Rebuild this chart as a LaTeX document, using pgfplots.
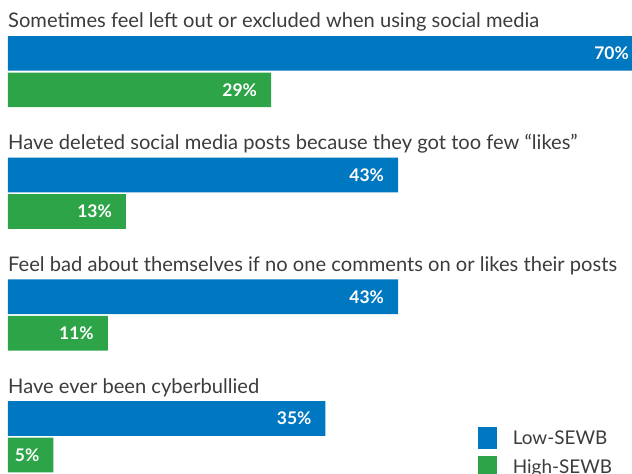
\documentclass[border=0pt]{standalone}
\usepackage{fontspec}
\setmainfont{Lato}
\usepackage{pgfplots}
\pgfplotsset{compat=1.18}
\definecolor{lowblue}{RGB}{0,119,193}
\definecolor{highgreen}{RGB}{46,164,73}
\definecolor{txtgray}{RGB}{60,60,60}

\begin{document}
\begin{tikzpicture}
\begin{axis}[
  scale only axis,
  width=650bp, height=474bp,
  xmin=-0.882, xmax=70.78,
  ymin=0, ymax=474,
  y dir=reverse,
  axis lines=none,
  clip=false,
  /pgf/number format/assume math mode=true,
  legend cell align=left,
  legend style={draw=none, fill=none, inner sep=0pt,
    at={(axis cs:-0.882+478/9.07,427.3)}, anchor=north west,
    font=\fontsize{19}{21}\selectfont, text=txtgray,
    row sep=7bp, column sep=16bp,
    nodes={inner sep=0pt, text height=14bp, text depth=4bp}},
]
\addplot[xbar, bar shift=0pt, bar width=34.7, fill=lowblue, draw=none,
  point meta=x,
  nodes near coords={\pgfmathprintnumber{\pgfplotspointmeta}\%},
  every node near coord/.append style={anchor=east, xshift=-10.5bp, text=white,
    font=\bfseries\fontsize{17.5}{19}\selectfont},
  legend image code/.code={\path (0bp,-10bp) rectangle (18.6bp,12bp);
    \fill[lowblue] (0bp,-7.4bp) rectangle (18.6bp,11.3bp);}]
  coordinates {(70,53.4) (43,175.1) (43,296.8) (35,418.5)};
\addlegendentry{Low-SEWB}
\addplot[xbar, bar shift=0pt, bar width=34.7, fill=highgreen, draw=none,
  point meta=x,
  nodes near coords={\pgfmathprintnumber{\pgfplotspointmeta}\%},
  every node near coord/.append style={anchor=east, xshift=-10.5bp, text=white,
    font=\bfseries\fontsize{17.5}{19}\selectfont},
  legend image code/.code={\path (0bp,-10bp) rectangle (18.6bp,12bp);
    \fill[highgreen] (0bp,-7.4bp) rectangle (18.6bp,11.3bp);}]
  coordinates {(29,89.9) (13,211.6) (11,333.3) (5,455.0)};
\addlegendentry{High-SEWB}

\begin{scope}[every node/.style={anchor=base west, inner sep=0pt, text=txtgray,
    font=\fontsize{20.2}{23}\selectfont}]
\node at (axis cs:0,28) {Sometimes feel left out or excluded when using social media};
\node at (axis cs:0,149.7) {Have deleted social media posts because they got too few “likes”};
\node at (axis cs:0,271.4) {Feel bad about themselves if no one comments on or likes their posts};
\node at (axis cs:0,393.1) {Have ever been cyberbullied};
\end{scope}
\coordinate (bl) at (axis cs:-0.882,474);
\coordinate (tr) at (axis cs:68.8,0);
\end{axis}
\pgfresetboundingbox
\path[use as bounding box] (bl) rectangle (tr);
\end{tikzpicture}
\end{document}
